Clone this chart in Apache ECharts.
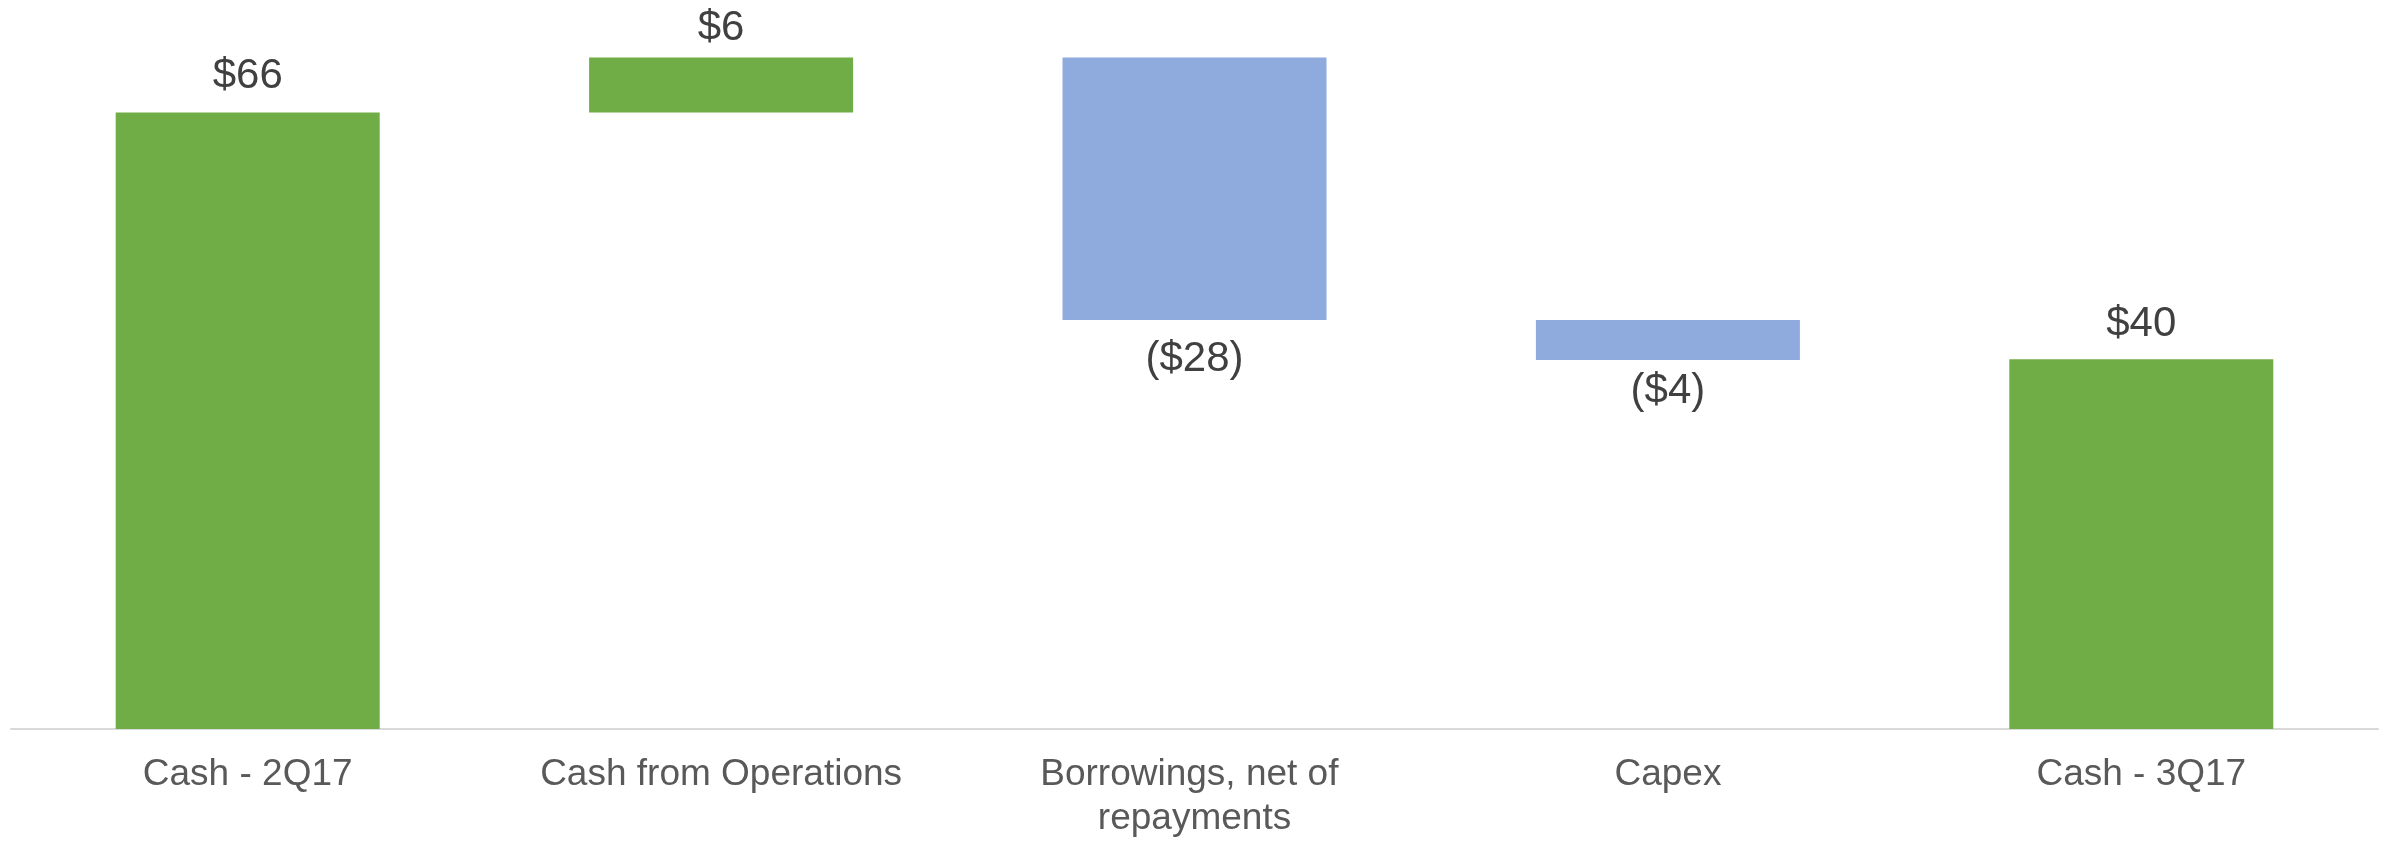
<!DOCTYPE html>
<html>
<head>
<meta charset="utf-8">
<script src="https://cdn.jsdelivr.net/npm/echarts@6/dist/echarts.min.js"></script>
<style>
html,body{margin:0;padding:0;background:#fff;}
#chart{width:2397px;height:841px;}
</style>
</head>
<body>
<div id="chart"></div>
<script>
const categories = ['Cash - 2Q17', 'Cash from Operations', 'Borrowings, net of repayments', 'Capex', 'Cash - 3Q17'];
// values (labels show them rounded to whole dollars)
const values = [66.0, 5.9, -28.1, -4.3, 39.6];
const kinds = ['total', 'delta', 'delta', 'delta', 'total'];

// styling (not data)
const GREEN = '#70AD47';
const BLUE = '#8FAADC';
const labelDistances = [15, 8, 19, 10, 14];

// build waterfall base / visible heights from the values
const base = [];
const visible = [];
let running = 0;
values.forEach((v, i) => {
  if (kinds[i] === 'total') {
    base.push(0);
    visible.push(v);
    running = v;
  } else if (v >= 0) {
    base.push(running);
    visible.push(v);
    running += v;
  } else {
    base.push(running + v);
    visible.push(-v);
    running += v;
  }
});

const fmt = v => v < 0 ? '($' + Math.round(Math.abs(v)) + ')' : '$' + Math.round(v);

const chart = echarts.init(document.getElementById('chart'), null, {renderer: 'canvas'});
chart.setOption({
  animation: false,
  backgroundColor: '#fff',
  grid: {left: 11, right: 19, top: 56.5, bottom: 110, containLabel: false},
  xAxis: {
    type: 'category',
    data: categories,
    axisLine: {show: true, lineStyle: {color: '#D9D9D9', width: 2}},
    axisTick: {show: false},
    axisLabel: {
      color: '#595959',
      fontFamily: 'Liberation Sans, Arial, sans-serif',
      fontSize: 37,
      lineHeight: 44,
      margin: 24,
      width: 400,
      overflow: 'break',
      interval: 0
    }
  },
  yAxis: {
    type: 'value',
    min: 0,
    max: 72,
    show: false,
    splitLine: {show: false}
  },
  series: [
    {
      type: 'bar',
      stack: 'w',
      barWidth: 264,
      itemStyle: {color: 'transparent'},
      emphasis: {disabled: true},
      data: base
    },
    {
      type: 'bar',
      stack: 'w',
      barWidth: 264,
      data: visible.map((h, i) => ({
        value: h,
        itemStyle: {color: kinds[i] === 'total' || values[i] >= 0 ? GREEN : BLUE},
        label: {
          show: true,
          position: values[i] >= 0 ? 'top' : 'bottom',
          distance: labelDistances[i],
          formatter: fmt(values[i]),
          color: '#404040',
          fontFamily: 'Liberation Sans, Arial, sans-serif',
          fontSize: 42
        }
      }))
    }
  ]
});
</script>
</body>
</html>
